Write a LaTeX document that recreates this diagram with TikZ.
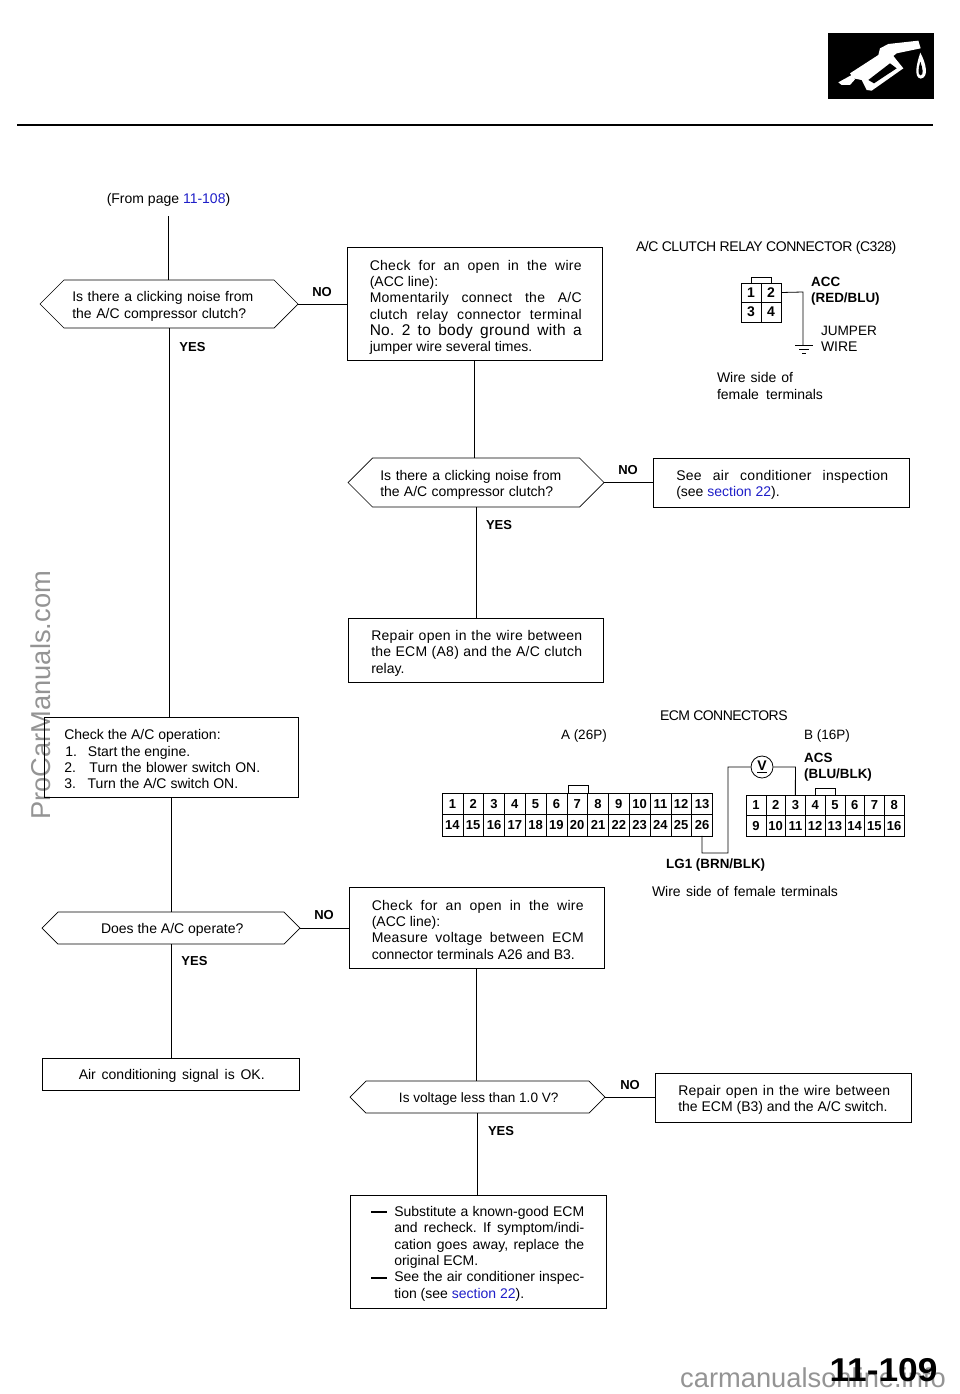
\documentclass[tikz,border=0pt]{standalone}
\usepackage{fontspec}
\setmainfont{Liberation Sans}
\usetikzlibrary{shapes.symbols}
\definecolor{linkblue}{RGB}{30,30,200}
\newcommand{\jline}[2]{\makebox[#1][s]{#2}}
\newcommand{\wline}[2]{\makebox[#1][s]{\addfontfeatures{LetterSpace=2}#2}}
\newcommand{\boxtext}[2]{\hspace*{2.5pt}\parbox{#1}{\vspace*{4.5pt}#2}}
\newcommand{\link}[1]{\textcolor{linkblue}{#1}}
\newcommand{\dashrule}{\makebox[23pt][l]{\rule[3.2pt]{16pt}{2pt}}}
\tikzset{
	txt/.style={inner sep=0pt, outer sep=0pt, align=left, font=\fontsize{14}{16.3}\selectfont},
	answer/.style={inner sep=0pt, font=\fontsize{13}{16}\selectfont\bfseries},
	wirelabel/.style={inner sep=0pt, align=left, font=\fontsize{13.4}{16}\selectfont\bfseries},
	actbox/.style={draw, line width=0.7pt, inner sep=0pt, outer sep=0pt, align=left, font=\fontsize{14}{16.3}\selectfont},
	decision/.style={draw, line width=0.7pt, signal, signal to=west and east, signal pointer angle=90, inner sep=0pt, outer sep=0pt, align=left, font=\fontsize{14}{16.3}\selectfont},
	pinbox/.style={draw, thin, inner sep=0pt, outer sep=0pt, font=\fontsize{13}{14}\selectfont\bfseries},
	flow/.style={black, line width=0.7pt},
	wire/.style={black, line width=0.8pt}
}
\begin{document}
\frenchspacing
\begin{tikzpicture}[x=1pt,y=-1pt]
	\useasboundingbox (0,0) rectangle (960,1394);

	\coordinate (ruleleft) at (17,125);
	\coordinate (ruleright) at (933,125);
	\draw [black, line width=2.4pt] (ruleleft) -- (ruleright);

	\fill [black] (828,33) rectangle (934,99);
	\begin{scope}[shift={(800,20)},scale=1/3]
		\fill [white] (150,160) -- (235,105) -- (240,85) -- (265,72) -- (355,62) -- (362,85) -- (290,100) -- (280,108) -- (310,145) -- (215,212) -- (200,210) -- (185,180) -- (160,175) -- cycle;
		\fill [black] (205,180) -- (270,130) -- (290,145) -- (222,190) -- cycle;
		\fill [white] (115,187) -- (155,165) -- (165,178) -- (150,195) -- (125,195) -- cycle;
		\fill [white] (361,98) .. controls (350,130) and (340,172) .. (362,176) .. controls (388,172) and (378,130) .. (361,98) -- cycle;
		\fill [black] (361,125) .. controls (355,145) and (352,165) .. (362,166) .. controls (372,165) and (368,145) .. (361,125) -- cycle;
	\end{scope}

	\node [txt] (frompage) at (168.5,200) {(From page \link{11-108})};
	\coordinate (start) at (168,216);

	\node [decision, minimum width=258, minimum height=48] (dec1) at (169,304) {\boxtext{196pt}{\jline{181pt}{Is there a clicking noise from}\\\jline{174pt}{the A/C compressor clutch?}}};
	\node [actbox, minimum width=255, minimum height=113] (chk1) at (474.5,303.5) {\boxtext{212pt}{\vspace*{3pt}\wline{212pt}{Check for an open in the wire}\\(ACC line):\\\wline{212pt}{Momentarily connect the A/C}\\\wline{212pt}{clutch relay connector terminal}\\\wline{212pt}{\fontsize{15.5}{16.3}\selectfont No. 2 to body ground with a}\\jumper wire several times.}};
	\node [decision, minimum width=256, minimum height=49] (dec2) at (476,482.5) {\boxtext{194pt}{\jline{181pt}{Is there a clicking noise from}\\\jline{173pt}{the A/C compressor clutch?}}};
	\node [actbox, minimum width=256, minimum height=49] (insp) at (781,482.5) {\boxtext{212pt}{\wline{212pt}{See air conditioner inspection}\\(see \link{section 22}).}};
	\node [actbox, minimum width=255, minimum height=64] (rep1) at (475.5,650) {\boxtext{211pt}{\vspace*{2pt}\wline{211pt}{Repair open in the wire between}\\\wline{211pt}{the ECM (A8) and the A/C clutch}\\relay.}};
	\node [actbox, minimum width=254, minimum height=80] (chk2) at (171,757) {\boxtext{216pt}{Check the A/C operation:\\\hspace*{1pt}\jline{125pt}{1.\ \ \ Start the engine.}\\\jline{196pt}{2.\ \ \ Turn the blower switch ON.}\\\jline{174pt}{3.\ \ \ Turn the A/C switch ON.}}};
	\node [decision, minimum width=258, minimum height=32] (dec3) at (171,928) {\boxtext{160pt}{\centering Does the A/C operate?}};
	\node [actbox, minimum width=255, minimum height=81] (chk3) at (476.5,927.5) {\boxtext{212pt}{\wline{212pt}{Check for an open in the wire}\\(ACC line):\\\wline{212pt}{Measure voltage between ECM}\\connector terminals A26 and B3.}};
	\node [actbox, minimum width=257, minimum height=32] (sigok) at (170.5,1074) {\boxtext{186pt}{\jline{186pt}{Air conditioning signal is OK.}}};
	\node [decision, minimum width=255, minimum height=32] (dec4) at (477.5,1097) {\boxtext{170pt}{\fontsize{13.6}{16.3}\selectfont\centering Is voltage less than 1.0 V?}};
	\node [actbox, minimum width=256, minimum height=49] (rep2) at (783,1097.5) {\boxtext{212pt}{\wline{212pt}{Repair open in the wire between}\\the ECM (B3) and the A/C switch.}};
	\node [actbox, minimum width=256, minimum height=113] (subst) at (478,1251.5) {\boxtext{216pt}{\dashrule\jline{190pt}{Substitute a known-good ECM}\\\hspace*{23pt}\jline{190pt}{and recheck. If symptom/indi-}\\\hspace*{23pt}\jline{190pt}{cation goes away, replace the}\\\hspace*{23pt}original ECM.\\\dashrule\jline{190pt}{See the air conditioner inspec-}\\\hspace*{23pt}tion (see \link{section 22}).}};

	\draw [flow] (start) -- (start |- dec1.north);
	\draw [flow] (dec1.south) -- (dec1.south |- chk2.north);
	\draw [flow] (dec1.east) -- (dec1.east -| chk1.west);
	\draw [flow] (chk1.south) -- (chk1.south |- dec2.north);
	\draw [flow] (dec2.south) -- (dec2.south |- rep1.north);
	\draw [flow] (dec2.east) -- (dec2.east -| insp.west);
	\draw [flow] (chk2.south) -- (chk2.south |- dec3.north);
	\draw [flow] (dec3.south) -- (dec3.south |- sigok.north);
	\draw [flow] (dec3.east) -- (dec3.east -| chk3.west);
	\draw [flow] (chk3.south) -- (chk3.south |- dec4.north);
	\draw [flow] (dec4.south) -- (dec4.south |- subst.north);
	\draw [flow] (dec4.east) -- (dec4.east -| rep2.west);

	\node [answer] (no1) at (322,292.5) {NO};
	\node [answer] (yes1) at (192.5,347.5) {YES};
	\node [answer] (no2) at (628,470.5) {NO};
	\node [answer] (yes2) at (499,525.5) {YES};
	\node [answer] (no3) at (324,915.5) {NO};
	\node [answer] (yes3) at (194.5,961.5) {YES};
	\node [answer] (no4) at (630,1085.5) {NO};
	\node [answer] (yes4) at (501,1131.5) {YES};

	\node [txt, anchor=west] (c328) at (636,247.5) {\addfontfeatures{LetterSpace=-3.3}A/C CLUTCH RELAY CONNECTOR (C328)};
	\draw [wire] (751,283) -- (751,277) -- (771,277) -- (771,283);
	\foreach \i/\px/\py in {1/751/292.5,2/771/292.5,3/751/312,4/771/312}
		\node [pinbox, minimum width=20, minimum height=19.5, font=\fontsize{14}{14}\selectfont\bfseries] (r\i) at (\px,\py) {\i};
	\coordinate (relaybend) at (803,292);
	\coordinate (gnd) at (803,345);
	\draw [wire] (r2.east) -- (relaybend) -- (gnd);
	\coordinate (gnd1l) at (795,345);
	\coordinate (gnd1r) at (813,345);
	\coordinate (gnd2l) at (799,349);
	\coordinate (gnd2r) at (809,349);
	\coordinate (gnd3l) at (802,353);
	\coordinate (gnd3r) at (806,353);
	\draw [thin] (gnd1l) -- (gnd1r);
	\draw [thin] (gnd2l) -- (gnd2r);
	\draw [thin] (gnd3l) -- (gnd3r);
	\node [wirelabel, anchor=west] (acc) at (811,291) {ACC\\(RED/BLU)};
	\node [txt, anchor=west] (jumper) at (821,339) {\fontsize{13.6}{16.3}\selectfont JUMPER\\WIRE};
	\node [txt, anchor=west] (wireside1) at (717,386) {\jline{76pt}{Wire side of}\\\jline{106pt}{female terminals}};

	\node [txt, anchor=west] (ecmcon) at (660,715.5) {\addfontfeatures{LetterSpace=-4}ECM CONNECTORS};
	\node [txt, anchor=west] (conna) at (561,736) {\fontsize{13.5}{16}\selectfont A (26P)};
	\node [txt, anchor=west] (connb) at (804,736) {\fontsize{13.5}{16}\selectfont B (16P)};
	\draw [wire] (568,793) -- (568,785) -- (588,785) -- (588,793);
	\foreach \i [evaluate=\i as \n using int(\i+13)] in {1,...,13} {
		\node [pinbox, minimum width=20.8, minimum height=21.5] (a\i) at ({442+(\i-.5)*20.8},803.7) {\i};
		\node [pinbox, minimum width=20.8, minimum height=21.5] (a\n) at ({442+(\i-.5)*20.8},825.2) {\n};
	}
	\draw [wire] (815,795) -- (815,788) -- (835,788) -- (835,795);
	\foreach \i [evaluate=\i as \n using int(\i+8)] in {1,...,8} {
		\node [pinbox, minimum width=19.75, minimum height=20.5] (b\i) at ({746+(\i-.5)*19.75},805.2) {\i};
		\node [pinbox, minimum width=19.75, minimum height=20.5] (b\n) at ({746+(\i-.5)*19.75},825.7) {\n};
	}
	\node [draw, line width=0.8pt, circle, inner sep=0pt, minimum size=22, font=\fontsize{14}{14}\selectfont\bfseries] (vmeter) at (762,767) {\underline{V}};
	\coordinate (lgbendA) at (702,853);
	\coordinate (lgbendB) at (728,853);
	\coordinate (lgbendC) at (728,767);
	\coordinate (acsbend) at (795.4,767);
	\draw [wire] (a26.south) -- (lgbendA) -- (lgbendB) -- (lgbendC) -- (vmeter.west);
	\draw [wire] (vmeter.east) -- (acsbend) -- (b3.north);
	\node [wirelabel, anchor=west] (acs) at (804,767.5) {ACS\\(BLU/BLK)};
	\node [wirelabel, anchor=west] (lg1) at (666,865.5) {LG1 (BRN/BLK)};
	\node [txt, anchor=west] (wireside2) at (652,891.5) {\jline{186pt}{Wire side of female terminals}};

	\node [inner sep=0pt, xscale=1.07, font=\fontsize{33}{36}\selectfont\bfseries] (pageno) at (883.5,1370) {11-109};
	\node [inner sep=0pt, text=black, text opacity=0.42, font=\fontsize{27.3}{30}\selectfont, anchor=west] (markb) at (680,1378) {carmanualsonline.info};
	\node [inner sep=0pt, text=black, text opacity=0.42, font=\fontsize{27.3}{30}\selectfont, rotate=90, anchor=west] (marka) at (41,820) {ProCarManuals.com};
\end{tikzpicture}
\end{document}
